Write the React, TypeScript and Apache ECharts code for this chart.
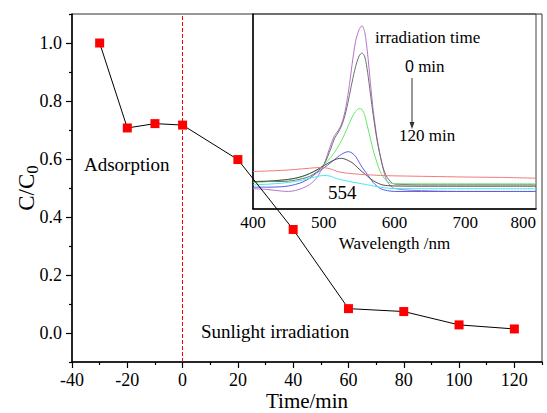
import React, { useEffect, useRef } from "react";
import * as echarts from "echarts";

const times = [-30, -20, -10, 0, 20, 40, 60, 80, 100, 120];
const ratio = [1.0, 0.707, 0.722, 0.717, 0.598, 0.357, 0.084, 0.074, 0.028, 0.014];

const xMajor = [-40, -20, 0, 20, 40, 60, 80, 100, 120];
const xMinor = [-30, -10, 10, 30, 50, 70, 90, 110, 130];
const yMajor = [0, 0.2, 0.4, 0.6, 0.8, 1.0];
const yMinor = [-0.1, 0.1, 0.3, 0.5, 0.7, 0.9, 1.1];

const wavelengths = [400, 420, 440, 450, 460, 470, 480, 490, 500, 510, 515, 520, 525, 530, 535, 540, 545, 550, 554, 558, 562, 566, 570, 575, 580, 585, 590, 600, 650, 700, 750, 800];
const specPurple = [0.104, 0.1, 0.092, 0.09, 0.095, 0.107, 0.125, 0.16, 0.226, 0.33, 0.375, 0.4, 0.435, 0.5, 0.605, 0.74, 0.86, 0.92, 0.94, 0.905, 0.795, 0.645, 0.505, 0.37, 0.27, 0.19, 0.14, 0.105, 0.093, 0.09, 0.09, 0.09];
const specGray = [0.141, 0.141, 0.141, 0.143, 0.148, 0.156, 0.167, 0.19, 0.226, 0.31, 0.36, 0.39, 0.425, 0.48, 0.56, 0.65, 0.73, 0.785, 0.8, 0.78, 0.7, 0.59, 0.48, 0.36, 0.27, 0.2, 0.16, 0.128, 0.124, 0.124, 0.124, 0.124];
const specGreen = [0.136, 0.14, 0.148, 0.152, 0.158, 0.166, 0.18, 0.2, 0.226, 0.265, 0.29, 0.318, 0.35, 0.388, 0.43, 0.47, 0.5, 0.515, 0.51, 0.48, 0.42, 0.36, 0.3, 0.24, 0.19, 0.16, 0.14, 0.13, 0.129, 0.129, 0.129, 0.129];
const specBlue = [0.112, 0.112, 0.114, 0.118, 0.126, 0.138, 0.158, 0.185, 0.21, 0.238, 0.252, 0.268, 0.28, 0.29, 0.294, 0.287, 0.27, 0.24, 0.215, 0.195, 0.175, 0.155, 0.135, 0.118, 0.105, 0.098, 0.094, 0.09, 0.09, 0.09, 0.09, 0.09];
const specDark = [0.141, 0.143, 0.148, 0.152, 0.158, 0.168, 0.182, 0.2, 0.222, 0.243, 0.252, 0.258, 0.26, 0.256, 0.248, 0.238, 0.222, 0.205, 0.192, 0.18, 0.168, 0.156, 0.145, 0.135, 0.127, 0.122, 0.12, 0.118, 0.117, 0.117, 0.117, 0.117];
const specRed = [0.192, 0.195, 0.198, 0.2, 0.203, 0.206, 0.209, 0.212, 0.212, 0.205, 0.198, 0.192, 0.188, 0.185, 0.183, 0.181, 0.18, 0.178, 0.177, 0.176, 0.175, 0.175, 0.174, 0.173, 0.172, 0.172, 0.171, 0.17, 0.167, 0.164, 0.162, 0.158];
const specCyan = [0.124, 0.127, 0.132, 0.136, 0.141, 0.148, 0.157, 0.166, 0.172, 0.168, 0.16, 0.154, 0.15, 0.146, 0.142, 0.138, 0.135, 0.132, 0.129, 0.127, 0.124, 0.121, 0.118, 0.115, 0.112, 0.109, 0.107, 0.105, 0.104, 0.104, 0.104, 0.104];

const spectra = [
  { name: "0 min", values: specPurple, color: "#b575c8" },
  { name: "20 min", values: specGray, color: "#6e6e6e" },
  { name: "40 min", values: specGreen, color: "#66e866" },
  { name: "60 min", values: specBlue, color: "#5a5ae8" },
  { name: "80 min", values: specDark, color: "#4a4a4a" },
  { name: "100 min", values: specRed, color: "#ee7a7a" },
  { name: "120 min", values: specCyan, color: "#44e8ee" },
];

const FONT = "'Liberation Serif', 'Times New Roman', serif";

export default function App() {
  const ref = useRef<HTMLDivElement>(null);
  useEffect(() => {
    if (!ref.current) return;
    const chart = echarts.init(ref.current, undefined, { renderer: "svg" });
    const lbl = { fontFamily: FONT, color: "#000" };
    const option: any = {
      animation: false,
      backgroundColor: "#ffffff",
      textStyle: { fontFamily: FONT },
      grid: [
        { left: 72, right: 5, top: 14, bottom: 51, show: true, borderColor: "#333", borderWidth: 1, containLabel: false, outerBoundsMode: "none" },
        { left: 253, right: 11, top: 14, bottom: 204, show: true, borderColor: "#444", borderWidth: 1, containLabel: false, outerBoundsMode: "none" },
      ],
      xAxis: [
        {
          type: "value", gridIndex: 0, min: -40, max: 130, interval: 10,
          name: "Time/min", nameLocation: "middle", nameGap: 28, nameMoveOverlap: false,
          nameTextStyle: { ...lbl, fontSize: 21, lineHeight: 22 },
          axisLine: { show: true, onZero: false, lineStyle: { color: "#000", width: 1.5 } },
          axisTick: { show: true, customValues: xMajor, length: 6, lineStyle: { color: "#000", width: 1.2 } },
          axisLabel: { ...lbl, customValues: xMajor, fontSize: 18, margin: 9 },
          splitLine: { show: false },
        },
        {
          type: "value", gridIndex: 0, min: -40, max: 130, interval: 10, position: "bottom",
          axisLine: { show: false, onZero: false },
          axisTick: { show: true, customValues: xMinor, length: 3, lineStyle: { color: "#000", width: 1.2 } },
          axisLabel: { show: false },
          splitLine: { show: false },
        },
        {
          type: "value", gridIndex: 1, min: 400, max: 800, interval: 100,
          name: "Wavelength /nm", nameLocation: "middle", nameGap: 26, nameMoveOverlap: false,
          nameTextStyle: { ...lbl, fontSize: 17 },
          axisLine: { show: true, onZero: false, lineStyle: { color: "#000", width: 1.5 } },
          axisTick: { show: false },
          axisLabel: { ...lbl, fontSize: 17, margin: 5, alignMaxLabel: "right" },
          splitLine: { show: false },
        },
      ],
      yAxis: [
        {
          type: "value", gridIndex: 0, min: -0.1, max: 1.1, interval: 0.1,
          name: "C/C{sub|0}", nameLocation: "middle", nameGap: 31, nameRotate: 90, nameMoveOverlap: false,
          nameTextStyle: {
            ...lbl, fontSize: 23, lineHeight: 30,
            rich: { sub: { fontFamily: FONT, fontSize: 17, color: "#000", verticalAlign: "bottom", lineHeight: 30 } },
          },
          axisLine: { show: true, onZero: false, lineStyle: { color: "#000", width: 1.5 } },
          axisTick: { show: true, customValues: yMajor, length: 6, lineStyle: { color: "#000", width: 1.2 } },
          axisLabel: { ...lbl, customValues: yMajor, fontSize: 18, margin: 10, formatter: (v: number) => v.toFixed(1) },
          splitLine: { show: false },
        },
        {
          type: "value", gridIndex: 0, min: -0.1, max: 1.1, interval: 0.1, position: "left",
          axisLine: { show: false, onZero: false },
          axisTick: { show: true, customValues: yMinor, length: 3, lineStyle: { color: "#000", width: 1.2 } },
          axisLabel: { show: false },
          splitLine: { show: false },
        },
        {
          type: "value", gridIndex: 1, min: 0, max: 1,
          axisLine: { show: true, onZero: false, lineStyle: { color: "#000", width: 1.5 } },
          axisTick: { show: false },
          axisLabel: { show: false },
          splitLine: { show: false },
        },
      ],
      series: [
        ...spectra.map((s) => ({
          type: "line", name: s.name, xAxisIndex: 2, yAxisIndex: 2,
          data: wavelengths.map((w, i) => [w, s.values[i]]),
          smooth: 0.3, showSymbol: false, symbol: "none",
          lineStyle: { color: s.color, width: 1 }, z: 1,
        })),
        {
          type: "line", name: "C/C0", xAxisIndex: 0, yAxisIndex: 0,
          data: times.map((t, i) => [t, ratio[i]]),
          symbol: "rect", symbolSize: 9,
          itemStyle: { color: "#ff0000" },
          lineStyle: { color: "#000", width: 1 },
          z: 5,
          markLine: {
            silent: true, symbol: "none", label: { show: false },
            lineStyle: { color: "#ff0000", type: "dashed", width: 1 },
            emphasis: { disabled: true },
            data: [{ xAxis: 0 }],
          },
        },
      ],
      graphic: [
        { type: "text", left: 84, top: 155, style: { text: "Adsorption", font: `19px ${FONT}`, fill: "#000" } },
        { type: "text", left: 201, top: 322, style: { text: "Sunlight irradiation", font: `19px ${FONT}`, fill: "#000" } },
        { type: "text", left: 375, top: 29, style: { text: "irradiation time", font: `17px ${FONT}`, fill: "#000" } },
        {
          type: "text", left: 405, top: 58,
          style: {
            text: "{a|0} min", font: `17px ${FONT}`, fill: "#000",
            rich: { a: { fontFamily: "'Liberation Sans', Arial, sans-serif", fontSize: 16, fill: "#000" } },
          },
        },
        { type: "line", shape: { x1: 412, y1: 78, x2: 412, y2: 127 }, style: { stroke: "#333", lineWidth: 1 } },
        { type: "polygon", shape: { points: [[409.5, 122], [414.5, 122], [412, 129]] }, style: { fill: "#333" } },
        { type: "text", left: 399, top: 127, style: { text: "120 min", font: `17px ${FONT}`, fill: "#000" } },
        { type: "text", left: 328, top: 183, style: { text: "554", font: `19px ${FONT}`, fill: "#000" } },
      ],
    };
    chart.setOption(option);
    return () => chart.dispose();
  }, []);
  return <div ref={ref} style={{ position: "fixed", left: 0, top: 0, width: 547, height: 413 }} />;
}
